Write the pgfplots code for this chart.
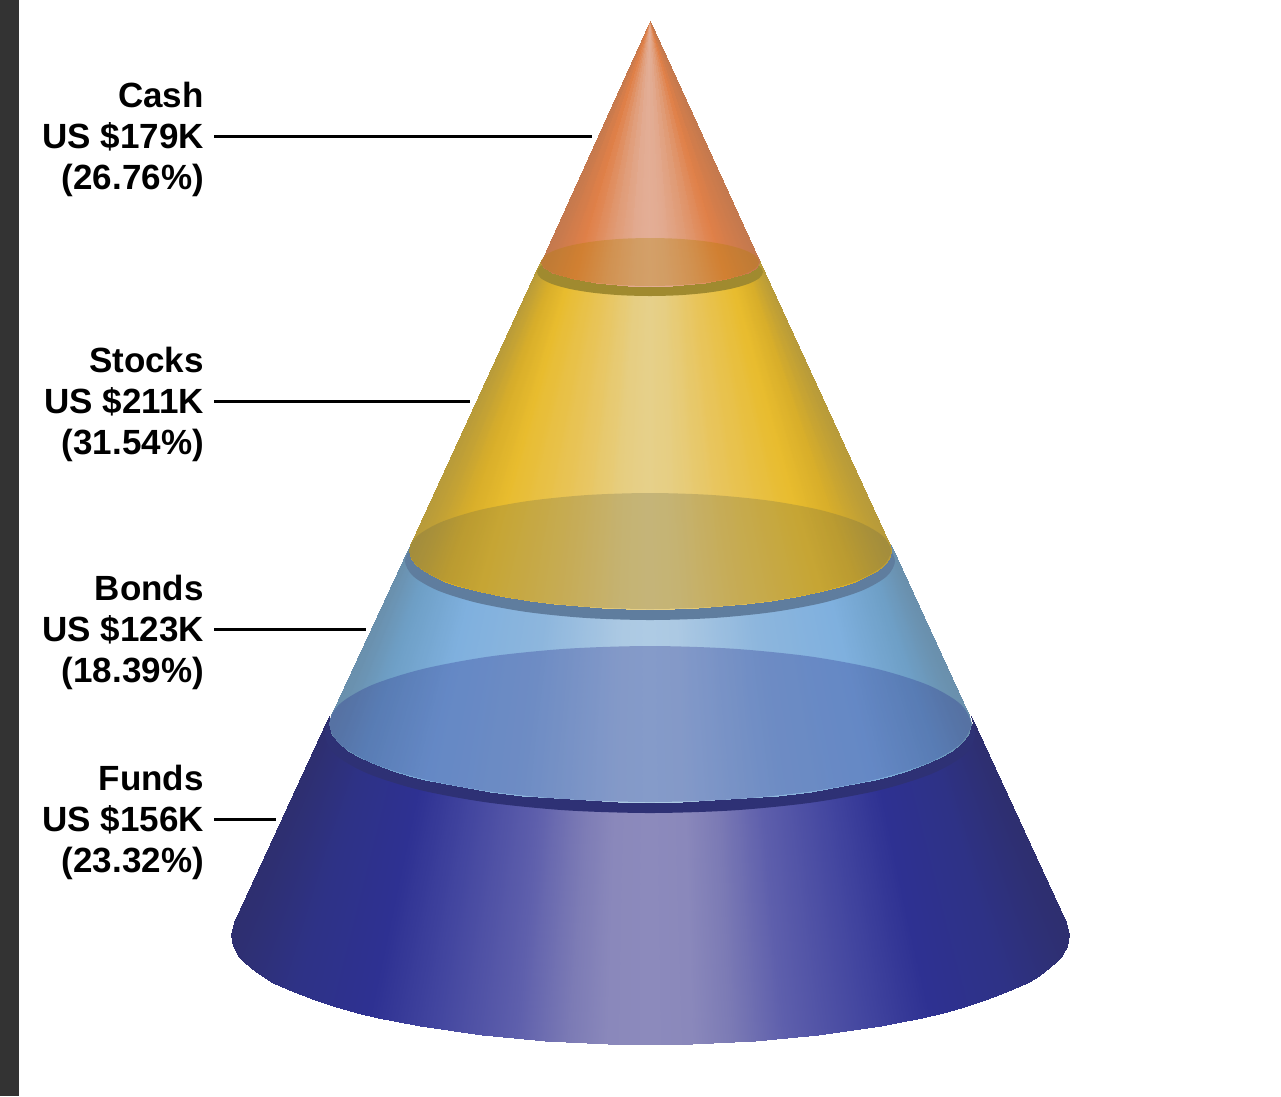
\documentclass[border=0pt]{standalone}
\usepackage{fontspec}
\setmainfont{Liberation Sans}
\usepackage{pgfplots}
\pgfplotsset{compat=1.18}
\pgfplotsset{
 colormap={fundsmap}{rgb255(0pt)=(140,138,188); rgb255(10pt)=(138,136,187); rgb255(19pt)=(124,123,181); rgb255(32pt)=(94,95,172); rgb255(52pt)=(66,69,159); rgb255(67pt)=(46,49,146); rgb255(85pt)=(46,50,134); rgb255(100pt)=(46,47,112)},
 colormap={bondsmap}{rgb255(0pt)=(174,203,228); rgb255(10pt)=(172,201,227); rgb255(40pt)=(141,182,221); rgb255(70pt)=(127,176,222); rgb255(90pt)=(110,159,198); rgb255(100pt)=(106,144,173)},
 colormap={stocksmap}{rgb255(0pt)=(230,208,138); rgb255(12pt)=(230,206,130); rgb255(35pt)=(232,197,94); rgb255(70pt)=(232,188,46); rgb255(85pt)=(216,174,42); rgb255(100pt)=(184,155,58)},
 colormap={cashmap}{rgb255(0pt)=(227,174,150); rgb255(15pt)=(226,170,144); rgb255(40pt)=(224,154,116); rgb255(70pt)=(224,128,72); rgb255(100pt)=(196,121,78)},
}
\definecolor{rimfunds}{HTML}{2E3175}
\definecolor{rimbonds}{HTML}{5F7D9E}
\definecolor{rimstocks}{HTML}{A08A2F}
\tikzset{lab/.style={font=\bfseries\fontsize{35}{41}\selectfont, inner sep=0pt, align=right, anchor=east}}
\begin{document}
\begin{tikzpicture}
\path[use as bounding box] (0,0) rectangle (1281pt,1096pt);
\begin{axis}[
  at={(0,0)}, anchor=south west,
  scale only axis, width=1281pt, height=1096pt,
  xmin=0, xmax=1281, ymin=0, ymax=1096, y dir=reverse,
  hide axis, clip=false,
  point meta min=0, point meta max=1,
]
% left window edge
\addplot[fill=black!80, draw=none] coordinates {(0,0) (19,0) (19,1096) (0,1096)} -- cycle;

% Funds body
\addplot[surf, shader=interp, colormap name=fundsmap, mesh/rows=2, mesh/cols=55, point meta=explicit] coordinates {
(329,716)[1] (327.5,724)[1] (329.1,724)[.995] (330.7,724)[.99] (333.9,724)[.98] (337.2,724)[.97] (342,724)[.955] (346.8,724)[.94] (353.3,724)[.92] (359.7,724)[.9] (375.9,724)[.85] (392,724)[.8] (408.1,724)[.75] (424.2,724)[.7] (440.4,724)[.65] (456.5,724)[.6] (472.6,724)[.55] (488.7,724)[.5] (504.9,724)[.45] (521,724)[.4] (537.1,724)[.35] (553.2,724)[.3] (569.4,724)[.25] (585.5,724)[.2] (601.6,724)[.15] (617.7,724)[.1] (633.9,724)[.05] (650,724)[0]
(666.1,724)[.05] (682.3,724)[.1] (698.4,724)[.15] (714.5,724)[.2] (730.6,724)[.25] (746.8,724)[.3] (762.9,724)[.35] (779,724)[.4] (795.1,724)[.45] (811.3,724)[.5] (827.4,724)[.55] (843.5,724)[.6] (859.6,724)[.65] (875.8,724)[.7] (891.9,724)[.75] (908,724)[.8] (924.1,724)[.85] (940.3,724)[.9] (946.7,724)[.92] (953.2,724)[.94] (958,724)[.955] (962.8,724)[.97] (966.1,724)[.98] (969.3,724)[.99] (970.9,724)[.995] (972.5,724)[1] (971,716)[1]

(234,922)[1] (231,935)[1] (233.1,945.9)[.995] (235.2,950.4)[.99] (239.4,956.7)[.98] (243.6,961.5)[.97] (249.9,967.4)[.955] (256.1,972.2)[.94] (264.5,977.7)[.92] (272.9,982.5)[.9] (293.8,992.4)[.85] (314.8,1000.4)[.8] (335.7,1007)[.75] (356.7,1012.8)[.7] (377.6,1017.8)[.65] (398.6,1022.2)[.6] (419.5,1026)[.55] (440.5,1029.4)[.5] (461.4,1032.3)[.45] (482.4,1035)[.4] (503.3,1037.1)[.35] (524.3,1039)[.3] (545.2,1040.5)[.25] (566.2,1041.8)[.2] (587.1,1042.8)[.15] (608.1,1043.5)[.1] (629,1043.9)[.05] (650,1044)[0]
(671,1043.9)[.05] (691.9,1043.5)[.1] (712.9,1042.8)[.15] (733.8,1041.8)[.2] (754.8,1040.5)[.25] (775.7,1039)[.3] (796.7,1037.1)[.35] (817.6,1035)[.4] (838.6,1032.3)[.45] (859.5,1029.4)[.5] (880.5,1026)[.55] (901.4,1022.2)[.6] (922.4,1017.8)[.65] (943.3,1012.8)[.7] (964.3,1007)[.75] (985.2,1000.4)[.8] (1006.2,992.4)[.85] (1027.1,982.5)[.9] (1035.5,977.7)[.92] (1043.9,972.2)[.94] (1050.1,967.4)[.955] (1056.4,961.5)[.97] (1060.6,956.7)[.98] (1064.8,950.4)[.99] (1066.9,945.9)[.995] (1069,935)[1] (1066,922)[1]
};
% Funds rim
\addplot[fill=rimfunds, draw=none, smooth cycle] coordinates {
(975,734) (964.9,754.5) (932.3,773.5) (880.5,789.9) (813,802.4) (734.4,810.3) (650,813) (565.6,810.3) (487,802.4) (419.5,789.9) (367.7,773.5) (335.1,754.5) (325,734) (335.1,713.5) (367.7,694.5) (419.5,678.1) (487,665.6) (565.6,657.7) (650,655) (734.4,657.7) (813,665.6) (880.5,678.1) (932.3,694.5) (964.9,713.5)};

% Bonds body
\addplot[surf, shader=interp, colormap name=bondsmap, mesh/rows=2, mesh/cols=33, point meta=explicit] coordinates {
(409.5,545)[1] (408.5,551)[1] (410.9,551)[.99] (415.7,551)[.97] (423,551)[.94] (432.6,551)[.9] (444.7,551)[.85] (456.8,551)[.8] (468.9,551)[.75] (480.9,551)[.7] (505.1,551)[.6] (529.2,551)[.5] (553.4,551)[.4] (577.5,551)[.3] (601.7,551)[.2] (625.8,551)[.1] (650,551)[0]
(674.2,551)[.1] (698.3,551)[.2] (722.5,551)[.3] (746.6,551)[.4] (770.8,551)[.5] (794.9,551)[.6] (819.1,551)[.7] (831.1,551)[.75] (843.2,551)[.8] (855.3,551)[.85] (867.4,551)[.9] (877,551)[.94] (884.3,551)[.97] (889.1,551)[.99] (891.5,551)[1] (890.5,545)[1]

(331,715.4)[1] (329,724)[1] (332.2,735)[.99] (338.6,743)[.97] (348.3,750.6)[.94] (361.1,758)[.9] (377.1,765.1)[.85] (393.2,770.8)[.8] (409.2,775.6)[.75] (425.3,779.7)[.7] (457.4,786.4)[.6] (489.5,791.5)[.5] (521.6,795.5)[.4] (553.7,798.4)[.3] (585.8,800.4)[.2] (617.9,801.6)[.1] (650,802)[0]
(682.1,801.6)[.1] (714.2,800.4)[.2] (746.3,798.4)[.3] (778.4,795.5)[.4] (810.5,791.5)[.5] (842.6,786.4)[.6] (874.7,779.7)[.7] (890.8,775.6)[.75] (906.8,770.8)[.8] (922.9,765.1)[.85] (938.9,758)[.9] (951.7,750.6)[.94] (961.4,743)[.97] (967.8,735)[.99] (971,724)[1] (969,715.4)[1]
};
% Bonds floor
\addplot[fill={rgb,255:red,40;green,45;blue,140}, fill opacity=.3, draw=none, smooth cycle] coordinates {
(971,724) (960.1,744.2) (928,763) (876.9,779.1) (810.5,791.5) (733.1,799.3) (650,802) (566.9,799.3) (489.5,791.5) (423.1,779.1) (372,763) (339.9,744.2) (329,724) (339.9,703.8) (372,685) (423.1,668.9) (489.5,656.5) (566.9,648.7) (650,646) (733.1,648.7) (810.5,656.5) (876.9,668.9) (928,685) (960.1,703.8)};
% Bonds rim
\addplot[fill=rimbonds, draw=none, smooth cycle] coordinates {
(895,561) (886.7,576.3) (862.2,590.5) (823.2,602.7) (772.5,612.1) (713.5,618) (650,620) (586.5,618) (527.5,612.1) (476.8,602.7) (437.8,590.5) (413.3,576.3) (405,561) (413.3,545.7) (437.8,531.5) (476.8,519.3) (527.5,509.9) (586.5,504) (650,502) (713.5,504) (772.5,509.9) (823.2,519.3) (862.2,531.5) (886.7,545.7)};

% Stocks body
\addplot[surf, shader=interp, colormap name=stocksmap, mesh/rows=2, mesh/cols=33, point meta=explicit] coordinates {
(541,260)[1] (540,262)[1] (541.1,262)[.99] (543.3,262)[.97] (546.6,262)[.94] (551,262)[.9] (556.5,262)[.85] (562,262)[.8] (567.5,262)[.75] (573,262)[.7] (584,262)[.6] (595,262)[.5] (606,262)[.4] (617,262)[.3] (628,262)[.2] (639,262)[.1] (650,262)[0]
(661,262)[.1] (672,262)[.2] (683,262)[.3] (694,262)[.4] (705,262)[.5] (716,262)[.6] (727,262)[.7] (732.5,262)[.75] (738,262)[.8] (743.5,262)[.85] (749,262)[.9] (753.4,262)[.94] (756.7,262)[.97] (758.9,262)[.99] (760,262)[1] (759,260)[1]

(410,544.7)[1] (409,551)[1] (411.4,559.2)[.99] (416.2,565.1)[.97] (423.5,570.8)[.94] (433.1,576.3)[.9] (445.1,581.6)[.85] (457.2,585.8)[.8] (469.2,589.3)[.75] (481.3,592.4)[.7] (505.4,597.4)[.6] (529.5,601.2)[.5] (553.6,604.2)[.4] (577.7,606.3)[.3] (601.8,607.8)[.2] (625.9,608.7)[.1] (650,609)[0]
(674.1,608.7)[.1] (698.2,607.8)[.2] (722.3,606.3)[.3] (746.4,604.2)[.4] (770.5,601.2)[.5] (794.6,597.4)[.6] (818.7,592.4)[.7] (830.8,589.3)[.75] (842.8,585.8)[.8] (854.9,581.6)[.85] (866.9,576.3)[.9] (876.5,570.8)[.94] (883.8,565.1)[.97] (888.6,559.2)[.99] (891,551)[1] (890,544.7)[1]
};
% Stocks floor
\addplot[fill={rgb,255:red,100;green,100;blue,70}, fill opacity=.25, draw=none, smooth cycle] coordinates {
(891,551) (882.8,566) (858.7,580) (820.4,592) (770.5,601.2) (712.4,607) (650,609) (587.6,607) (529.5,601.2) (479.6,592) (441.3,580) (417.2,566) (409,551) (417.2,536) (441.3,522) (479.6,510) (529.5,500.8) (587.6,495) (650,493) (712.4,495) (770.5,500.8) (820.4,510) (858.7,522) (882.8,536)};
% Stocks rim
\addplot[fill=rimstocks, draw=none, smooth cycle] coordinates {
(763,272) (759.2,278.2) (747.9,284) (729.9,289) (706.5,292.8) (679.3,295.2) (650,296) (620.7,295.2) (593.5,292.8) (570.1,289) (552.1,284) (540.8,278.2) (537,272) (540.8,265.8) (552.1,260) (570.1,255) (593.5,251.2) (620.7,248.8) (650,248) (679.3,248.8) (706.5,251.2) (729.9,255) (747.9,260) (759.2,265.8)};

% Cash body
\addplot[surf, shader=interp, colormap name=cashmap, mesh/rows=2, mesh/cols=29, point meta=explicit] coordinates {
(650,21)[1] (650,21)[1] (650,21)[.99] (650,21)[.97] (650,21)[.94] (650,21)[.9] (650,21)[.8] (650,21)[.7] (650,21)[.6] (650,21)[.5] (650,21)[.4] (650,21)[.3] (650,21)[.2] (650,21)[.1] (650,21)[0] (650,21)[.1] (650,21)[.2] (650,21)[.3] (650,21)[.4] (650,21)[.5] (650,21)[.6] (650,21)[.7] (650,21)[.8] (650,21)[.9] (650,21)[.94] (650,21)[.97] (650,21)[.99] (650,21)[1] (650,21)[1]

(541.5,259.6)[1] (541,262)[1] (542.1,265.4)[.99] (544.3,267.8)[.97] (547.5,270.2)[.94] (551.9,272.5)[.9] (562.8,276.4)[.8] (573.7,279.1)[.7] (584.6,281.2)[.6] (595.5,282.8)[.5] (606.4,284)[.4] (617.3,284.9)[.3] (628.2,285.5)[.2] (639.1,285.9)[.1] (650,286)[0] (660.9,285.9)[.1] (671.8,285.5)[.2] (682.7,284.9)[.3] (693.6,284)[.4] (704.5,282.8)[.5] (715.4,281.2)[.6] (726.3,279.1)[.7] (737.2,276.4)[.8] (748.1,272.5)[.9] (752.5,270.2)[.94] (755.7,267.8)[.97] (757.9,265.4)[.99] (759,262)[1] (758.5,259.6)[1]
};
% Cash floor
\addplot[fill={rgb,255:red,176;green,128;blue,0}, fill opacity=.3, draw=none, smooth cycle] coordinates {
(759,262) (755.3,268.2) (744.4,274) (727.1,279) (704.5,282.8) (678.2,285.2) (650,286) (621.8,285.2) (595.5,282.8) (572.9,279) (555.6,274) (544.7,268.2) (541,262) (544.7,255.8) (555.6,250) (572.9,245) (595.5,241.2) (621.8,238.8) (650,238) (678.2,238.8) (704.5,241.2) (727.1,245) (744.4,250) (755.3,255.8)};

% leader lines
\addplot[black, line width=3pt] coordinates {(214,136) (592,136)};
\addplot[black, line width=3pt] coordinates {(214,401) (470,401)};
\addplot[black, line width=3pt] coordinates {(214,629) (366,629)};
\addplot[black, line width=3pt] coordinates {(214,819) (276,819)};

% labels
\node[lab] at (axis cs:204,139) {Cash\\US \$179K\\(26.76\%)};
\node[lab] at (axis cs:204,404) {Stocks\\US \$211K\\(31.54\%)};
\node[lab] at (axis cs:204,632) {Bonds\\US \$123K\\(18.39\%)};
\node[lab] at (axis cs:204,822) {Funds\\US \$156K\\(23.32\%)};
\end{axis}
\end{tikzpicture}
\end{document}
